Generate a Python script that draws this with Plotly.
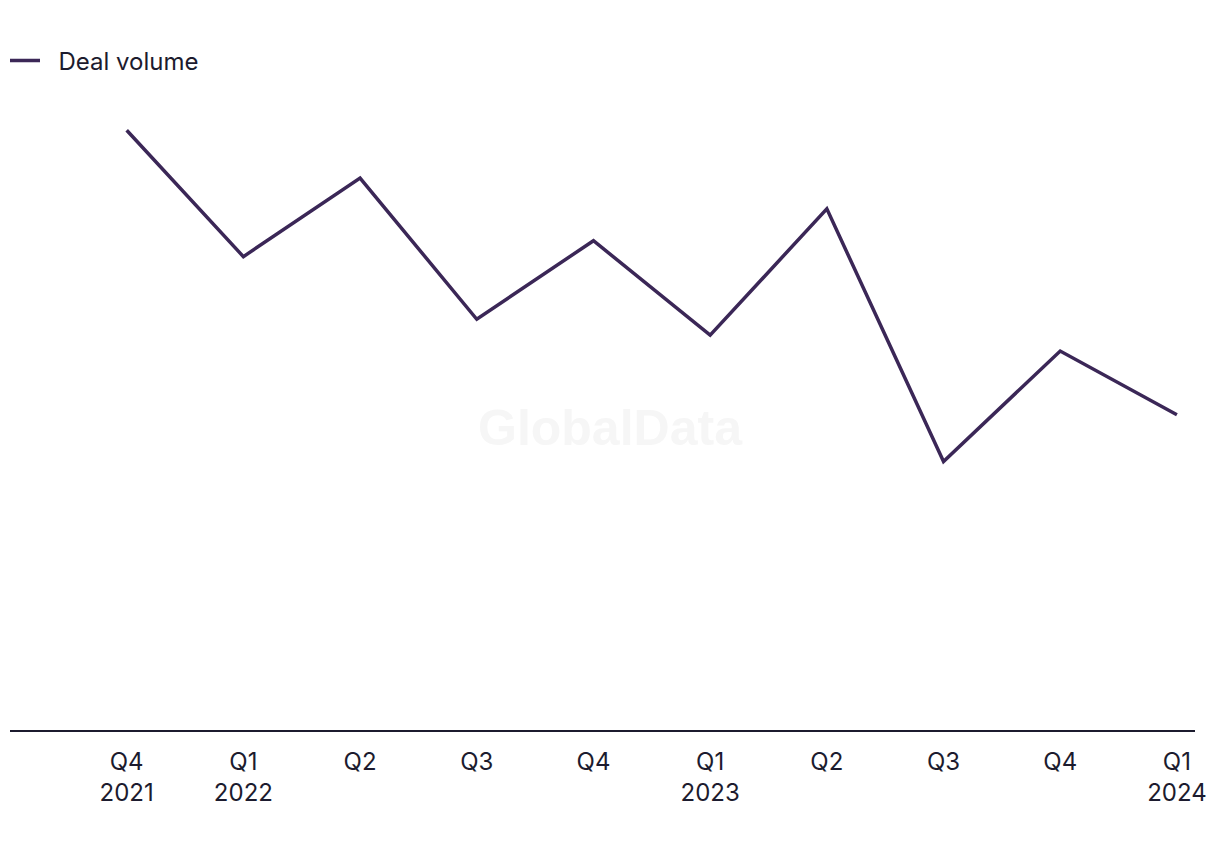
import plotly.graph_objects as go

quarters = ["Q4<br>2021", "Q1<br>2022", "Q2", "Q3", "Q4", "Q1<br>2023", "Q2", "Q3", "Q4", "Q1<br>2024"]
deal_volume = [603, 476, 555, 413, 492, 397, 524, 270, 381, 317]
series_name = "Deal volume"

x_idx = list(range(len(quarters)))

fig = go.Figure()
fig.add_trace(go.Scatter(
    x=x_idx, y=deal_volume, mode="lines", name="\u00a0\u00a0" + series_name,
    line=dict(color="#3b2757", width=3.5),
    showlegend=True,
))

fig.update_layout(
    width=1220, height=850,
    margin=dict(l=10, r=25, t=90, b=120),
    plot_bgcolor="white", paper_bgcolor="white",
    font=dict(family="Inter, Roboto, sans-serif", size=24, color="#1c1b2e"),
    showlegend=True,
    legend=dict(x=5 / 1220, y=1 - 61 / 850, xref="container", yref="container",
                xanchor="left", yanchor="middle",
                orientation="h", font=dict(size=24, color="#1c1b2e"),
                bgcolor="rgba(0,0,0,0)"),
    xaxis=dict(
        tickmode="array", tickvals=x_idx, ticktext=quarters,
        range=[-1.0, 9.155], showgrid=False, zeroline=False,
        showline=True, linecolor="#1c1b2e", linewidth=2,
        ticks="", tickfont=dict(size=24, color="#1c1b2e"),
        ticklabelstandoff=9,
    ),
    yaxis=dict(range=[0, 640], showgrid=False, zeroline=False, showticklabels=False, showline=False),
    annotations=[dict(
        text="<b>GlobalData</b>", xref="paper", yref="paper", x=0.507, y=0.475,
        showarrow=False, font=dict(size=50, color="#f6f6f6", family="Liberation Sans, Arial, sans-serif"),
    )],
)

fig.write_html("out.html")
